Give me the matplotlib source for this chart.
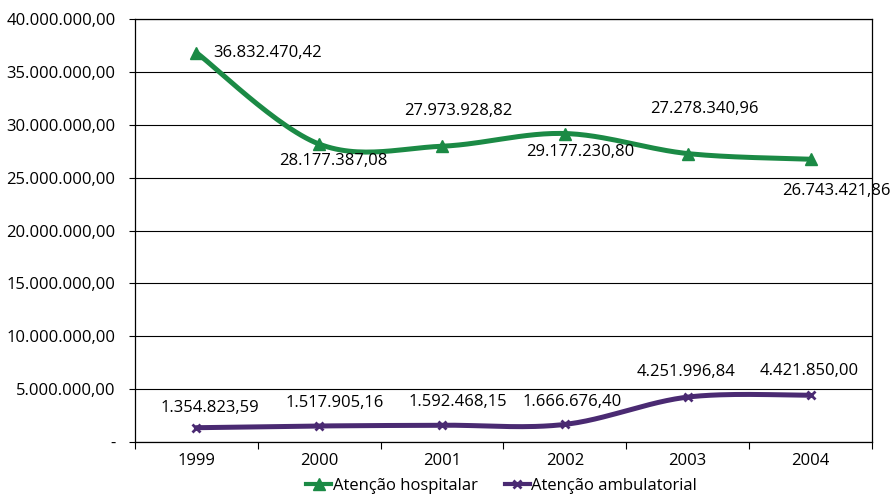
import numpy as np
import matplotlib.pyplot as plt
from matplotlib.ticker import FixedLocator

anos = ['1999', '2000', '2001', '2002', '2003', '2004']
hospitalar = [36832470.42, 28177387.08, 27973928.82, 29177230.80, 27278340.96, 26743421.86]
ambulatorial = [1354823.59, 1517905.16, 1592468.15, 1666676.40, 4251996.84, 4421850.00]
rotulos_hosp = ['36.832.470,42', '28.177.387,08', '27.973.928,82', '29.177.230,80',
                '27.278.340,96', '26.743.421,86']
rotulos_amb = ['1.354.823,59', '1.517.905,16', '1.592.468,15', '1.666.676,40',
               '4.251.996,84', '4.421.850,00']
y_ticks = [0, 5e6, 10e6, 15e6, 20e6, 25e6, 30e6, 35e6, 40e6]
y_labels = ['-', '5.000.000,00', '10.000.000,00', '15.000.000,00', '20.000.000,00',
            '25.000.000,00', '30.000.000,00', '35.000.000,00', '40.000.000,00']

verde = '#1b8a45'
roxo = '#4a2a72'
fs = 12

plt.rcParams['font.family'] = ['Open Sans', 'DejaVu Sans']
plt.rcParams['font.size'] = fs


def suave(x, y, n=30):
    # curva suavizada tipo Excel (bezier com tangentes catmull-rom)
    x = np.asarray(x, float)
    y = np.asarray(y, float)
    px, py = [], []
    for i in range(len(x) - 1):
        x0, y0 = (x[i - 1], y[i - 1]) if i > 0 else (x[i], y[i])
        x3, y3 = (x[i + 2], y[i + 2]) if i + 2 < len(x) else (x[i + 1], y[i + 1])
        c1x = x[i] + (x[i + 1] - x0) / 6
        c1y = y[i] + (y[i + 1] - y0) / 6
        c2x = x[i + 1] - (x3 - x[i]) / 6
        c2y = y[i + 1] - (y3 - y[i]) / 6
        t = np.linspace(0, 1, n)
        b = [(1 - t) ** 3, 3 * (1 - t) ** 2 * t, 3 * (1 - t) * t ** 2, t ** 3]
        px.extend(b[0] * x[i] + b[1] * c1x + b[2] * c2x + b[3] * x[i + 1])
        py.extend(b[0] * y[i] + b[1] * c1y + b[2] * c2y + b[3] * y[i + 1])
    return px, py


fig = plt.figure(figsize=(8.93, 4.95), dpi=100)
ax = fig.add_axes([0.151, 0.107, 0.8255, 0.8545])

xs = np.arange(1, len(anos) + 1)
sx, sy = suave(xs, hospitalar)
ax.plot(sx, sy, color=verde, lw=3.6, solid_capstyle='round', zorder=3)
ax.plot(xs, hospitalar, ls='none', marker='^', ms=9, color=verde, zorder=4)
sx, sy = suave(xs, ambulatorial)
ax.plot(sx, sy, color=roxo, lw=3.6, solid_capstyle='round', zorder=3)
ax.plot(xs, ambulatorial, ls='none', marker='x', ms=6, mew=2, color=roxo, zorder=4)

off_hosp = [(17, 0, 'left'), (14, -17, 'center'), (16, 35, 'center'),
            (15, -18, 'center'), (17, 45, 'center'), (26, -32, 'center')]
for x, v, r, (dx, dy, ha) in zip(xs, hospitalar, rotulos_hosp, off_hosp):
    ax.annotate(r, (x, v), xytext=(dx, dy), textcoords='offset pixels',
                ha=ha, va='center', fontsize=fs, annotation_clip=False)

off_amb = [(14, 20), (16, 23), (16, 23), (7, 22), (-2, 25), (-1, 24)]
for x, v, r, (dx, dy) in zip(xs, ambulatorial, rotulos_amb, off_amb):
    ax.annotate(r, (x, v), xytext=(dx, dy), textcoords='offset pixels',
                ha='center', va='center', fontsize=fs)

ax.set_xlim(0.5, len(anos) + 0.5)
ax.set_ylim(0, 40e6)
ax.set_xticks(xs)
ax.set_xticklabels(anos)
ax.xaxis.set_minor_locator(FixedLocator(np.arange(0.5, len(anos) + 1, 1)))
ax.tick_params(axis='x', which='major', length=0, pad=8)
ax.tick_params(axis='x', which='minor', length=5, width=0.8)
ax.set_yticks(y_ticks)
ax.set_yticklabels(y_labels)
ax.tick_params(axis='y', length=4, width=0.8, pad=10)
ax.grid(axis='y', color='black', lw=0.8)
for s in ax.spines.values():
    s.set_linewidth(0.9)
    s.set_color('black')

h1, = ax.plot([], [], color=verde, lw=3, marker='^', ms=8)
h2, = ax.plot([], [], color=roxo, lw=3, marker='x', ms=6, mew=2)
fig.legend([h1, h2], ['Atenção hospitalar', 'Atenção ambulatorial'],
           loc='center', bbox_to_anchor=(0.562, 0.018), ncol=2, frameon=False,
           handlelength=1.5, handletextpad=0.1, columnspacing=1.6, fontsize=fs)

fig.savefig('out.png', dpi=100)
